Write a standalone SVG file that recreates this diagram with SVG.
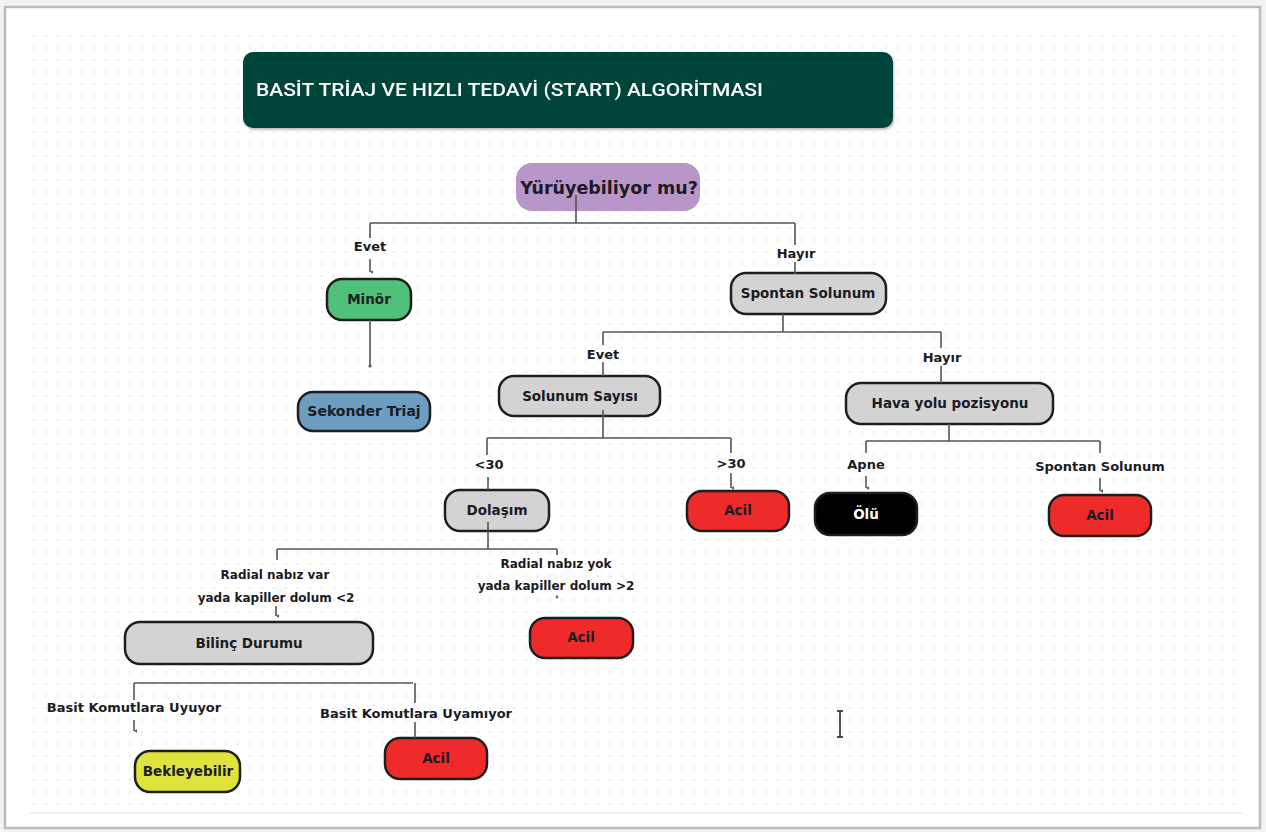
<svg xmlns="http://www.w3.org/2000/svg" width="1266" height="832" viewBox="0 0 1266 832">
<defs>
<pattern id="dots" x="33" y="35" width="12" height="12" patternUnits="userSpaceOnUse">
<circle cx="1" cy="1" r="0.9" fill="#e2e2e2"/>
</pattern>
<marker id="ah" viewBox="0 0 6 6" refX="3" refY="5.5" markerWidth="6" markerHeight="6" orient="auto" markerUnits="userSpaceOnUse">
<path d="M1.2,2.5 L3,5.5 L4.8,2.5 Z" fill="#555"/>
</marker>
<filter id="sh" x="-10%" y="-10%" width="120%" height="130%">
<feDropShadow dx="1" dy="2" stdDeviation="1.2" flood-color="#000" flood-opacity="0.25"/>
</filter>
</defs>
<style>
.node rect{stroke:#1e1e1e;stroke-width:2.5}
.nt{font-family:"DejaVu Sans",Verdana,sans-serif;font-weight:bold;font-size:13.5px;fill:#1b1b24;text-anchor:middle}
.lb{font-family:"DejaVu Sans",Verdana,sans-serif;font-weight:bold;font-size:13px;fill:#1b1b24;text-anchor:middle}
.lbs{font-family:"DejaVu Sans",Verdana,sans-serif;font-weight:bold;font-size:12px;fill:#1b1b24;text-anchor:middle}
.c path,.c line{stroke:#555;stroke-width:1.6;fill:none}
.gray{fill:#d3d3d3}
.red{fill:#ee2a2a}
</style>
<rect x="0" y="0" width="1266" height="832" fill="#f2f2f2"/>
<rect x="5" y="7" width="1255" height="821" fill="#ffffff" stroke="#bcbcbc" stroke-width="2.5"/>
<rect x="30" y="32" width="1210" height="780" fill="url(#dots)"/>
<line x1="30" y1="813" x2="1242" y2="813" stroke="#ececec" stroke-width="1.5"/>

<g id="title" filter="url(#sh)">
<rect x="243" y="52" width="650" height="76" rx="10" fill="#05443a"/>
<text x="256" y="96" font-family="Roboto,'Liberation Sans',sans-serif" font-weight="500" font-size="19" fill="#ffffff" textLength="507" lengthAdjust="spacingAndGlyphs">BASİT TRİAJ VE HIZLI TEDAVİ (START) ALGORİTMASI</text>
</g>

<g id="n-yuruyebiliyor">
<rect x="516" y="163" width="184" height="48" rx="16" fill="#b996c9"/>
<text class="nt" x="609" y="194" style="font-size:17.5px">Yürüyebiliyor mu?</text>
</g>
<g id="n-minor" class="node">
<rect x="327" y="279" width="84" height="41" rx="15" fill="#4fc17b"/>
<text class="nt" x="369" y="304">Minör</text>
</g>
<g id="n-sekonder" class="node">
<rect x="298" y="392" width="132" height="39" rx="15" fill="#6b9ec0"/>
<text class="nt" x="364" y="416" style="font-size:14px">Sekonder Triaj</text>
</g>
<g id="n-spontan" class="node">
<rect x="731" y="273" width="155" height="41" rx="15" class="gray"/>
<text class="nt" x="808" y="298">Spontan Solunum</text>
</g>
<g id="n-solsayisi" class="node">
<rect x="499" y="376" width="161" height="40" rx="15" class="gray"/>
<text class="nt" x="580" y="401">Solunum Sayısı</text>
</g>
<g id="n-havayolu" class="node">
<rect x="846" y="383" width="207" height="41" rx="15" class="gray"/>
<text class="nt" x="950" y="408">Hava yolu pozisyonu</text>
</g>
<g id="n-dolasim" class="node">
<rect x="445" y="490" width="104" height="41" rx="15" class="gray"/>
<text class="nt" x="497" y="515">Dolaşım</text>
</g>
<g id="n-acil1" class="node">
<rect x="687" y="491" width="102" height="40" rx="15" class="red"/>
<text class="nt" x="738" y="515">Acil</text>
</g>
<g id="n-olu" class="node">
<rect x="815" y="493" width="102" height="42" rx="15" fill="#000000"/>
<text class="nt" x="866" y="519" style="fill:#ffffff">Ölü</text>
</g>
<g id="n-acil2" class="node">
<rect x="1049" y="495" width="102" height="41" rx="15" class="red"/>
<text class="nt" x="1100" y="520">Acil</text>
</g>
<g id="n-bilinc" class="node">
<rect x="125" y="622" width="248" height="42" rx="15" class="gray"/>
<text class="nt" x="249" y="648">Bilinç Durumu</text>
</g>
<g id="n-acil3" class="node">
<rect x="530" y="618" width="103" height="40" rx="15" class="red"/>
<text class="nt" x="581" y="642">Acil</text>
</g>
<g id="n-bekleyebilir" class="node">
<rect x="135" y="751" width="105" height="41" rx="15" fill="#dfe23b"/>
<text class="nt" x="188" y="776">Bekleyebilir</text>
</g>
<g id="n-acil4" class="node">
<rect x="385" y="738" width="102" height="41" rx="15" class="red"/>
<text class="nt" x="436" y="763">Acil</text>
</g>

<g id="connectors" class="c">
<path d="M576,195 V223 M370,223 H795 M370,223 V238 M795,223 V245 M795,262 V274"/>
<line x1="370" y1="259" x2="370" y2="272" marker-end="url(#ah)"/>
<path d="M370,320 V366"/>
<circle cx="370" cy="366" r="1.6" fill="#555"/>
<path d="M783,314 V332 M603,332 H941 M603,332 V345 M603,362 V376 M941,332 V348 M941,366 V383"/>
<path d="M603,410 V438 M487,438 H731 M487,438 V455 M488,477 V490 M731,438 V453"/>
<line x1="731" y1="473" x2="731" y2="488" marker-end="url(#ah)"/>
<path d="M949,424 V441 M866,441 H1100 M866,441 V453 M1100,441 V453"/>
<line x1="866" y1="476" x2="866" y2="488" marker-end="url(#ah)"/>
<line x1="1100" y1="478" x2="1100" y2="491" marker-end="url(#ah)"/>
<path d="M488,522 V549 M277,549 H557 M277,549 V560 M557,549 V555"/>
<line x1="276" y1="606" x2="276" y2="616" marker-end="url(#ah)"/>
<circle cx="557" cy="597" r="1.4" fill="#666"/>
<path d="M134,683 H413 M134,683 V700 M415,683 V703 M415,722 V738"/>
<line x1="134" y1="720" x2="134" y2="731" marker-end="url(#ah)"/>
<path d="M840,711 V737 M837,711 H843 M837,737 H843" style="stroke:#444;stroke-width:1.8"/>
</g>

<g id="labels">
<text class="lb" x="370" y="251">Evet</text>
<text class="lb" x="796" y="258">Hayır</text>
<text class="lb" x="603" y="359">Evet</text>
<text class="lb" x="942" y="362">Hayır</text>
<text class="lb" x="489" y="469">&lt;30</text>
<text class="lb" x="731" y="468">&gt;30</text>
<text class="lb" x="866" y="469">Apne</text>
<text class="lb" x="1100" y="471">Spontan Solunum</text>
<text class="lbs" x="275" y="579">Radial nabız var</text>
<text class="lbs" x="276" y="602">yada kapiller dolum &lt;2</text>
<text class="lbs" x="556" y="568">Radial nabız yok</text>
<text class="lbs" x="556" y="590">yada kapiller dolum &gt;2</text>
<text class="lb" x="134" y="712">Basit Komutlara Uyuyor</text>
<text class="lb" x="416" y="718">Basit Komutlara Uyamıyor</text>
</g>
</svg>
